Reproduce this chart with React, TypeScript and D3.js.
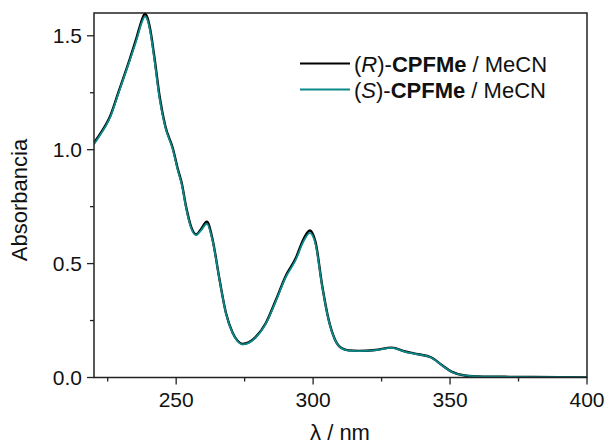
import React from "react";
import * as d3 from "d3";

const wavelengths = [220, 222, 226, 229, 233, 235.5, 237.5, 238.6, 239.5, 240.5, 242, 244, 246, 248.8, 250.6, 252, 253.7, 255.5, 257.3, 259, 261.2, 263.3, 265.8, 268.2, 270.6, 272.5, 274.2, 276.5, 279, 282.7, 286.4, 290, 293.6, 296.6, 298.8, 300.9, 303.3, 305.7, 308, 310.5, 313, 316.6, 322.7, 328.7, 333.6, 338.4, 343, 347, 350.5, 355.4, 362, 370, 380, 400];

const absR = [1.03, 1.065, 1.15, 1.255, 1.395, 1.49, 1.57, 1.597, 1.58, 1.53, 1.41, 1.23, 1.105, 1.005, 0.915, 0.855, 0.745, 0.66, 0.628, 0.65, 0.684, 0.605, 0.432, 0.282, 0.197, 0.16, 0.147, 0.154, 0.177, 0.238, 0.34, 0.446, 0.522, 0.61, 0.645, 0.593, 0.404, 0.252, 0.166, 0.128, 0.119, 0.117, 0.121, 0.131, 0.114, 0.102, 0.089, 0.055, 0.026, 0.009, 0.004, 0.003, 0.002, 0.0];

const absS = [1.024, 1.06, 1.145, 1.25, 1.39, 1.48, 1.56, 1.585, 1.57, 1.52, 1.40, 1.22, 1.10, 1.00, 0.91, 0.85, 0.74, 0.655, 0.625, 0.645, 0.675, 0.60, 0.43, 0.28, 0.195, 0.158, 0.145, 0.152, 0.175, 0.235, 0.335, 0.44, 0.515, 0.60, 0.635, 0.585, 0.40, 0.25, 0.165, 0.127, 0.118, 0.116, 0.12, 0.13, 0.113, 0.101, 0.088, 0.054, 0.025, 0.009, 0.004, 0.003, 0.002, 0.0];

const xMajorTicks = [250, 300, 350, 400];
const xMinorTicks = [225, 275, 325, 375];
const yMajorTicks = [0, 0.5, 1.0, 1.5];
const yMinorTicks = [0.25, 0.75, 1.25];

const W = 607;
const H = 444;
const M = { left: 94, right: 587, top: 13, bottom: 377.5 };
const FONT = "'Liberation Sans', Arial, Helvetica, sans-serif";
const TEAL = "#0b8a8a";

export default function App() {
  const x = d3.scaleLinear().domain([220, 400]).range([M.left, M.right]);
  const y = d3.scaleLinear().domain([0, 1.6]).range([M.bottom, M.top]);
  const line = d3
    .line<number>()
    .x((_, i) => x(wavelengths[i]))
    .y((d) => y(d))
    .curve(d3.curveMonotoneX);

  const axisColor = "#222";
  return (
    <svg width={W} height={H} style={{ position: "absolute", left: 0, top: 0, background: "#fff" }}>
      <defs>
        <clipPath id="plot">
          <rect x={M.left} y={M.top - 2} width={M.right - M.left} height={M.bottom - M.top + 2} />
        </clipPath>
      </defs>
      <g clipPath="url(#plot)">
        <path d={line(absR) || ""} fill="none" stroke="#000" strokeWidth={2.4} />
        <path d={line(absS) || ""} fill="none" stroke={TEAL} strokeWidth={1.8} />
      </g>
      <rect x={M.left} y={M.top} width={M.right - M.left} height={M.bottom - M.top} fill="none" stroke={axisColor} strokeWidth={1.5} />
      {xMajorTicks.map((t) => (
        <g key={"xM" + t}>
          <line x1={x(t)} x2={x(t)} y1={M.bottom} y2={M.bottom + 7} stroke={axisColor} strokeWidth={1.3} />
          <text x={x(t)} y={406.5} textAnchor="middle" fontFamily={FONT} fontSize={21} fill="#111">
            {t}
          </text>
        </g>
      ))}
      {xMinorTicks.map((t) => (
        <line key={"xm" + t} x1={x(t)} x2={x(t)} y1={M.bottom} y2={M.bottom + 4} stroke={axisColor} strokeWidth={1.3} />
      ))}
      {yMajorTicks.map((t) => (
        <g key={"yM" + t}>
          <line x1={M.left - 7} x2={M.left} y1={y(t)} y2={y(t)} stroke={axisColor} strokeWidth={1.3} />
          <text x={82} y={y(t) + 7.5} textAnchor="end" fontFamily={FONT} fontSize={21} fill="#111">
            {t.toFixed(1)}
          </text>
        </g>
      ))}
      {yMinorTicks.map((t) => (
        <line key={"ym" + t} x1={M.left - 4} x2={M.left} y1={y(t)} y2={y(t)} stroke={axisColor} strokeWidth={1.3} />
      ))}
      <text
        transform={`translate(27,200) rotate(-90)`}
        textAnchor="middle"
        fontFamily={FONT}
        fontSize={22}
        fill="#111"
      >
        Absorbancia
      </text>
      <text x={340} y={440} textAnchor="middle" fontFamily={FONT} fontSize={22} fill="#111">
        λ / nm
      </text>
      <line x1={300} x2={350} y1={63.5} y2={63.5} stroke="#000" strokeWidth={1.8} />
      <text x={354} y={71.5} fontFamily={FONT} fontSize={22} fill="#111">
        (<tspan fontStyle="italic">R</tspan>)-<tspan fontWeight="bold">CPFMe</tspan> / MeCN
      </text>
      <line x1={300} x2={350} y1={89.5} y2={89.5} stroke={TEAL} strokeWidth={1.8} />
      <text x={354} y={97.5} fontFamily={FONT} fontSize={22} fill="#111">
        (<tspan fontStyle="italic">S</tspan>)-<tspan fontWeight="bold">CPFMe</tspan> / MeCN
      </text>
    </svg>
  );
}
